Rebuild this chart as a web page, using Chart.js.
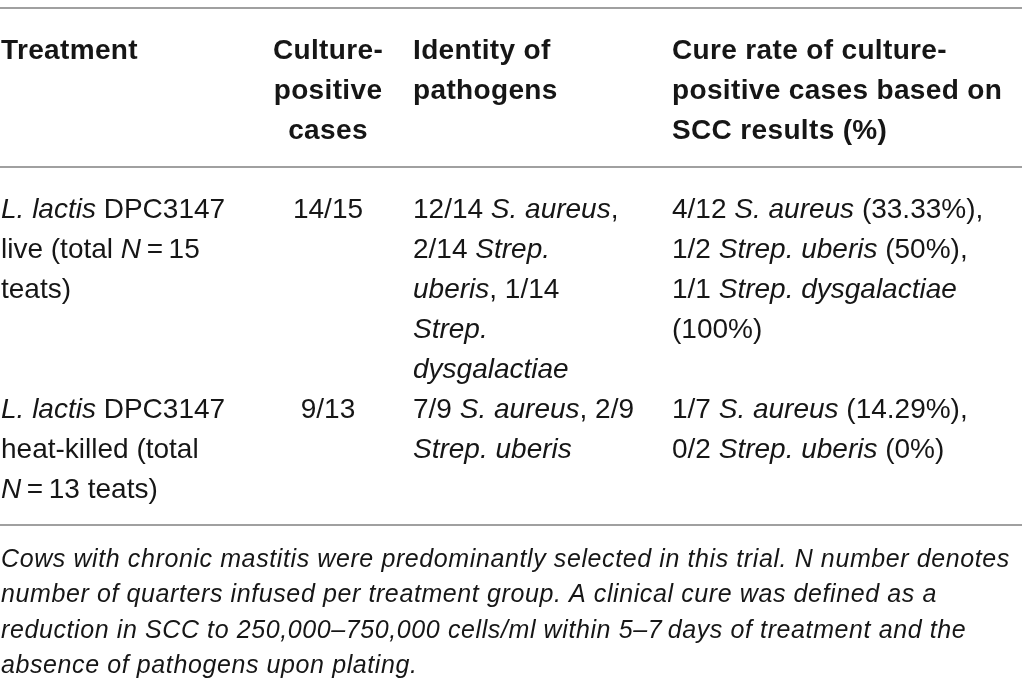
<!DOCTYPE html>
<html>
<head>
<meta charset="utf-8">
<script src="https://cdn.jsdelivr.net/npm/chart.js@4.4.0/dist/chart.umd.min.js"></script>
<style>
  html, body { margin: 0; padding: 0; background: #fff; }
  #wrap { width: 1022px; height: 694px; position: relative; }
</style>
</head>
<body>
<div id="wrap"><canvas id="tableChart"></canvas></div>
<script>
// table content, cells are lists of lines, _..._ marks italic
var headers = [
  ["Treatment"],
  ["Culture-", "positive", "cases"],
  ["Identity of", "pathogens"],
  ["Cure rate of culture-", "positive cases based on", "SCC results (%)"]
];
var treatments = [
  ["_L. lactis_ DPC3147", "live (total _N_\u2009=\u200915", "teats)"],
  ["_L. lactis_ DPC3147", "heat-killed (total", "_N_\u2009=\u200913 teats)"]
];
var culturePositive = [["14/15"], ["9/13"]];
var pathogens = [
  ["12/14 _S. aureus_,", "2/14 _Strep._", "_uberis_, 1/14", "_Strep._", "_dysgalactiae_"],
  ["7/9 _S. aureus_, 2/9", "_Strep. uberis_"]
];
var cureRates = [
  ["4/12 _S. aureus_ (33.33%),", "1/2 _Strep. uberis_ (50%),", "1/1 _Strep. dysgalactiae_", "(100%)"],
  ["1/7 _S. aureus_ (14.29%),", "0/2 _Strep. uberis_ (0%)"]
];
var footnote = [
  "Cows with chronic mastitis were predominantly selected in this trial. N number denotes",
  "number of quarters infused per treatment group. A clinical cure was defined as a",
  "reduction in SCC to 250,000\u2013750,000 cells/ml within 5\u20137\u2009days of treatment and the",
  "absence of pathogens upon plating."
];

// layout (in scale units = pixels)
var colX = [1, 328, 413, 672];
var colAlign = ['left', 'center', 'left', 'left'];
var headerTop = 59, rowTops = [218, 418], lineH = 40;
var rules = [8, 167, 525];
var footTop = 567, footLineH = 35.3;
var FONT = '"Liberation Sans", Arial, Helvetica, sans-serif';

function segs(str) {
  return str.split('_').map(function (t, i) { return { t: t, it: i % 2 === 1 }; });
}
function drawRich(ctx, str, px, py, align, size, weight, allItalic, spacing) {
  var parts = segs(str), w = 0;
  ctx.letterSpacing = (spacing || 0) + 'px';
  parts.forEach(function (p) {
    p.font = ((p.it || allItalic) ? 'italic ' : '') + weight + ' ' + size + 'px ' + FONT;
    ctx.font = p.font;
    p.w = ctx.measureText(p.t).width;
    w += p.w;
  });
  var cx = align === 'center' ? px - w / 2 : px;
  parts.forEach(function (p) {
    ctx.font = p.font;
    ctx.fillText(p.t, cx, py);
    cx += p.w;
  });
  ctx.letterSpacing = '0px';
}

var tablePlugin = {
  id: 'tableText',
  afterDraw: function (chart) {
    var ctx = chart.ctx, x = chart.scales.x, y = chart.scales.y;
    ctx.save();
    ctx.textBaseline = 'alphabetic';
    ctx.textAlign = 'left';
    ctx.fillStyle = '#161616';
    // rules
    ctx.strokeStyle = '#a0a0a0';
    ctx.lineWidth = 2;
    rules.forEach(function (r) {
      ctx.beginPath();
      ctx.moveTo(x.getPixelForValue(0), y.getPixelForValue(r));
      ctx.lineTo(x.getPixelForValue(1022), y.getPixelForValue(r));
      ctx.stroke();
    });
    // header
    headers.forEach(function (cell, c) {
      cell.forEach(function (line, i) {
        drawRich(ctx, line, x.getPixelForValue(colX[c]), y.getPixelForValue(headerTop + i * lineH), colAlign[c], 28, 'bold', false, 0.35);
      });
    });
    // body rows
    var cols = [treatments, culturePositive, pathogens, cureRates];
    rowTops.forEach(function (top, r) {
      cols.forEach(function (col, c) {
        col[r].forEach(function (line, i) {
          drawRich(ctx, line, x.getPixelForValue(colX[c]), y.getPixelForValue(top + i * lineH), colAlign[c], 28, 'normal', false, 0);
        });
      });
    });
    // footnote
    footnote.forEach(function (line, i) {
      drawRich(ctx, line, x.getPixelForValue(1), y.getPixelForValue(footTop + i * footLineH), 'left', 25, 'normal', true, 0.6);
    });
    ctx.restore();
  }
};

new Chart(document.getElementById('tableChart').getContext('2d'), {
  type: 'scatter',
  data: { datasets: [{ data: [] }] },
  options: {
    responsive: true,
    maintainAspectRatio: false,
    animation: false,
    layout: { padding: 0 },
    plugins: { legend: { display: false }, tooltip: { enabled: false } },
    scales: {
      x: { type: 'linear', min: 0, max: 1022, display: false },
      y: { type: 'linear', min: 0, max: 694, reverse: true, display: false }
    }
  },
  plugins: [tablePlugin]
});
</script>
</body>
</html>
